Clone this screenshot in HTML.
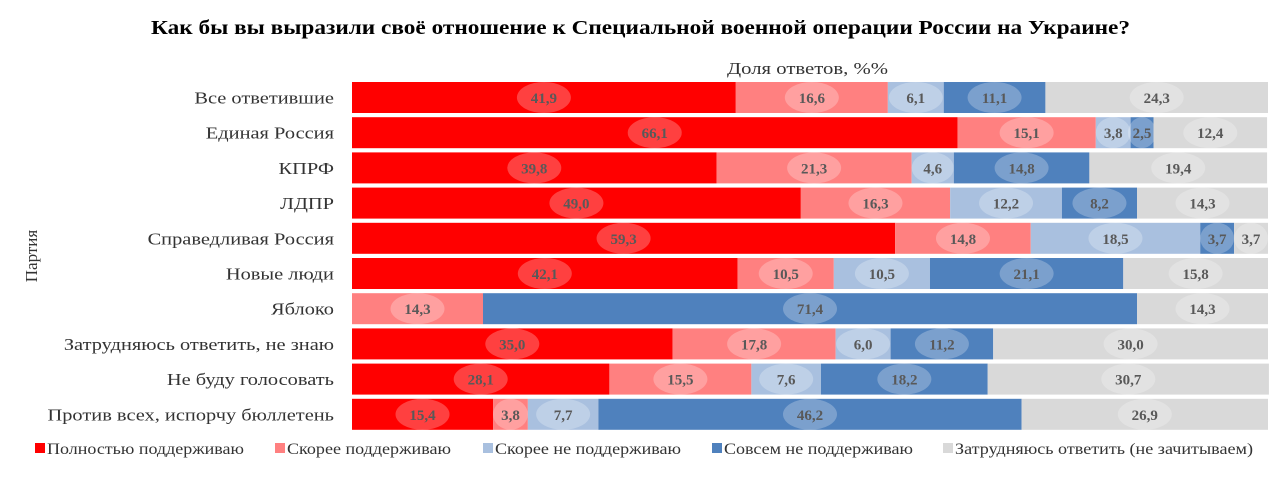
<!DOCTYPE html>
<html><head><meta charset="utf-8"><style>
body{margin:0;background:#fff;}
svg text{font-family:"Liberation Serif",serif;}
</style></head><body>
<svg id="chart" width="1280" height="482" xmlns="http://www.w3.org/2000/svg">
<rect x="0" y="0" width="1280" height="482" fill="#fff"/>
<text x="151" y="34" textLength="979" lengthAdjust="spacingAndGlyphs" font-size="20" font-weight="bold" fill="#000">Как бы вы выразили своё отношение к Специальной военной операции России на Украине?</text>
<text x="727" y="74" textLength="161" lengthAdjust="spacingAndGlyphs" font-size="17" fill="#333">Доля ответов, %%</text>
<text x="0" y="0" transform="translate(37,256) rotate(-90)" text-anchor="middle" font-size="17" fill="#333">Партия</text>
<g id="bars"></g>
<g id="legend"></g>
</svg>
<script>
const categories=["Все ответившие","Единая Россия","КПРФ","ЛДПР","Справедливая Россия","Новые люди","Яблоко","Затрудняюсь ответить, не знаю","Не буду голосовать","Против всех, испорчу бюллетень"];
const seriesNames=["Полностью поддерживаю","Скорее поддерживаю","Скорее не поддерживаю","Совсем не поддерживаю","Затрудняюсь ответить (не зачитываем)"];
const fullySupport=[41.9,66.1,39.8,49.0,59.3,42.1,0,35.0,28.1,15.4];
const ratherSupport=[16.6,15.1,21.3,16.3,14.8,10.5,14.3,17.8,15.5,3.8];
const ratherNot=[6.1,3.8,4.6,12.2,18.5,10.5,0,6.0,7.6,7.7];
const notAtAll=[11.1,2.5,14.8,8.2,3.7,21.1,71.4,11.2,18.2,46.2];
const undecided=[24.3,12.4,19.4,14.3,3.7,15.8,14.3,30.0,30.7,26.9];
const colors=["#ff0000","#ff8080","#a9c0df","#4f81bd","#d9d9d9"];
const NS="http://www.w3.org/2000/svg";
const x0=352,plotW=916,rowTop=82,step=35.2,barH=31;
const xs=v=>v/100*plotW;
const yRow=i=>rowTop+i*step;
const series=[fullySupport,ratherSupport,ratherNot,notAtAll,undecided];
const g=document.getElementById('bars');
function mk(tag,attrs,parent){const e=document.createElementNS(NS,tag);for(const k in attrs)e.setAttribute(k,attrs[k]);parent.appendChild(e);return e;}
function stretch(t,f){const L=t.getComputedTextLength();t.setAttribute('textLength',L*f);t.setAttribute('lengthAdjust','spacingAndGlyphs');}
categories.forEach((c,i)=>{
  const y=yRow(i);
  const t=mk('text',{x:334,y:y+barH/2+6,'text-anchor':'end','font-size':17,fill:'#333'},g);
  t.textContent=c;
  
  
  stretch(t,1.2);
  let acc=0;
  series.forEach((s,k)=>{
    const v=s[i];if(!v){return;}
    const x=x0+xs(acc);const w=xs(v);
    const r=mk('rect',{x:x,y:y,width:w,height:barH,fill:colors[k]},g);
    
    
    const cx=x+w/2;
    const rx=Math.min(27,Math.max(14,w/2));
    const el=mk('ellipse',{cx:cx,cy:y+barH/2,rx:rx,ry:barH/2,fill:'#fff','fill-opacity':0.25},g);
    
    
    const vt=mk('text',{x:cx,y:y+barH/2+5.5,'text-anchor':'middle','font-size':15,'font-weight':'bold',fill:'#595959'},g);
    vt.textContent=v.toFixed(1).replace('.',',');
    
    
    acc+=v;
  });
});
const lg=document.getElementById('legend');
const lx=[35,275,483,712,943];
const lw=[197,164,186,189,298];
seriesNames.forEach((n,k)=>{
  const gg=mk('g',{},lg);
  
  
  mk('rect',{x:lx[k],y:443,width:10,height:10,fill:colors[k]},gg);
  const t=mk('text',{x:lx[k]+12,y:454,'font-size':16,fill:'#333',textLength:lw[k],lengthAdjust:'spacingAndGlyphs'},gg);
  t.textContent=n;
});
</script>
</body></html>
